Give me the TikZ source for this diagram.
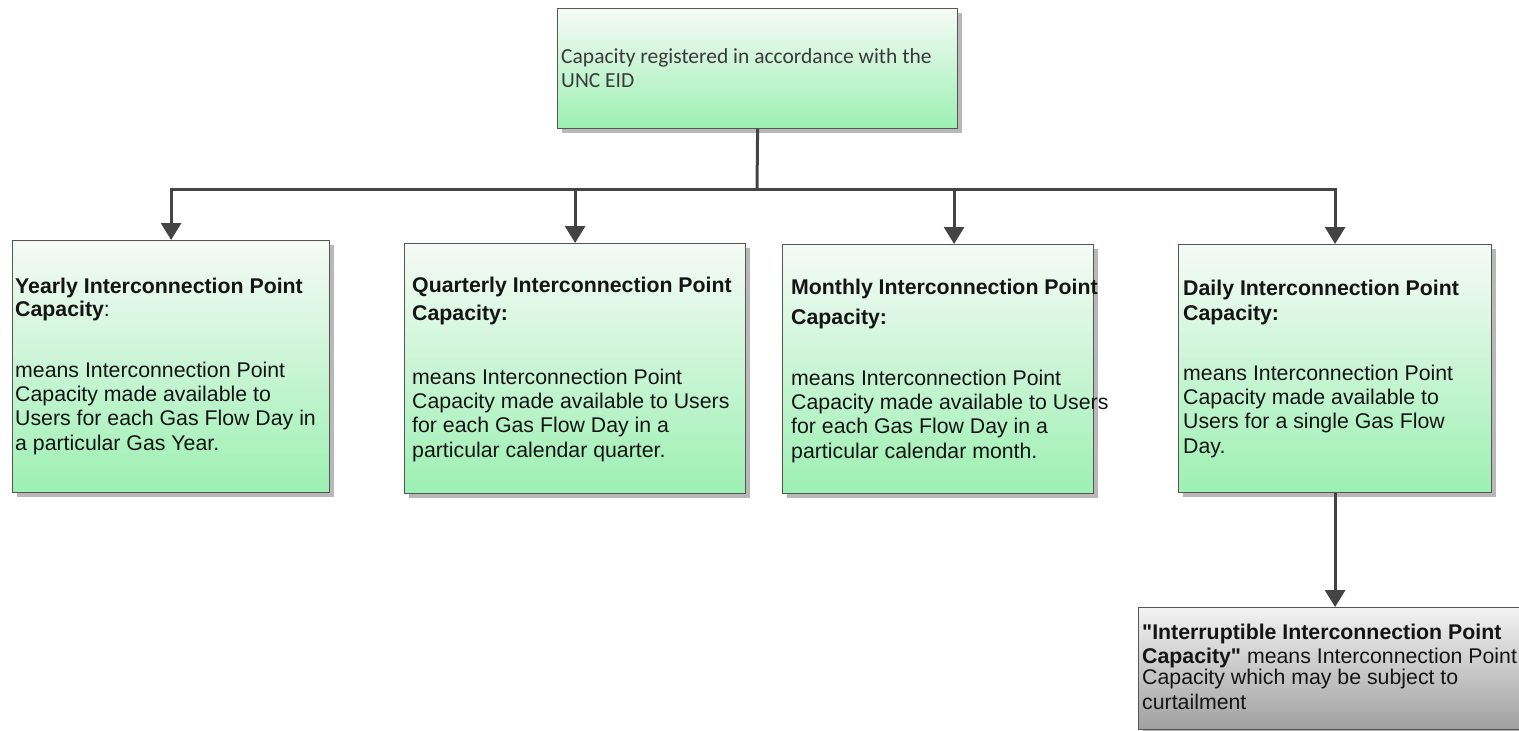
\documentclass[tikz,border=0pt]{standalone}
\usepackage{fontspec}
\newfontfamily\arialf{Liberation Sans}
\newfontfamily\calf{Carlito}
\usetikzlibrary{arrows.meta,shadows,calc}
\definecolor{edge}{HTML}{555555}
\definecolor{grn}{RGB}{156,240,178}
\definecolor{grntop}{RGB}{246,250,247}
\definecolor{gry}{RGB}{160,160,160}
\definecolor{grytop}{RGB}{242,242,242}
\definecolor{conn}{HTML}{444444}
\definecolor{toptext}{HTML}{3a3a3a}
\begin{document}
\begin{tikzpicture}[x=1pt,y=-1pt,
  box/.style={draw=edge, line width=1.2pt, anchor=north west, inner sep=0pt,
    top color=grntop, bottom color=grn,
    drop shadow={shadow xshift=4pt, shadow yshift=-4pt, fill=black!28, opacity=1}},
  graybox/.style={box, top color=grytop, bottom color=gry},
  txt/.style={anchor=base west, inner sep=0pt, align=left, text=black!92,
    font=\arialf\fontsize{21.3}{24.3}\selectfont},
  toptxt/.style={anchor=base west, inner sep=0pt, align=left, text=toptext,
    font=\calf\fontsize{21.5}{24}\selectfont},
  connline/.style={draw=conn, line width=3pt, line join=miter},
  arrowline/.style={connline, -{Triangle[width=20pt,length=17pt]}}]
\useasboundingbox (0,0) rectangle (1519,731);

% boxes
\node[box, minimum width=400, minimum height=120] (top) at (557,8) {};
\node[box, minimum width=317, minimum height=252] (yearly) at (12,240) {};
\node[box, minimum width=341, minimum height=250] (quarterly) at (404,243) {};
\node[box, minimum width=311, minimum height=249] (monthly) at (782,244) {};
\node[box, minimum width=313, minimum height=248] (daily) at (1178,244) {};
\node[graybox, minimum width=400, minimum height=122] (intr) at (1138,607) {};

% texts (anchored at the baseline of their last line)
\node[toptxt] (topT) at (561,87) {Capacity registered in accordance with the\\UNC EID};

\node[txt] (yearlyT) at (15,450) {\textbf{Yearly Interconnection Point}\\[-1pt]
\textbf{Capacity}:\\[36pt]
means Interconnection Point\\
Capacity made available to\\
Users for each Gas Flow Day in\\
a particular Gas Year.};

\node[txt] (quarterlyT) at (412,457) {\textbf{Quarterly Interconnection Point}\\[4pt]
\textbf{Capacity:}\\[39pt]
means Interconnection Point\\
Capacity made available to Users\\
for each Gas Flow Day in a\\
particular calendar quarter.};

\node[txt] (monthlyT) at (791,458) {\textbf{Monthly Interconnection Point}\\[6pt]
\textbf{Capacity:}\\[36pt]
means Interconnection Point\\
Capacity made available to Users\\
for each Gas Flow Day in a\\
particular calendar month.};

\node[txt] (dailyT) at (1183,453) {\textbf{Daily Interconnection Point}\\[1pt]
\textbf{Capacity:}\\[35pt]
means Interconnection Point\\
Capacity made available to\\
Users for a single Gas Flow\\
Day.};

\node[txt] (intrT) at (1142,709) {\textbf{"Interruptible Interconnection Point}\\
\textbf{Capacity"} means Interconnection Point\\[-3pt]
Capacity which may be subject to\\
curtailment};

% connectors
\coordinate (hub) at (757,189);
\draw[connline] (top.south) -- (hub);
\draw[arrowline] (hub) -| (yearly.north);
\draw[arrowline] (hub) -| (quarterly.north);
\draw[arrowline] (hub) -| ([xshift=16pt]monthly.north);
\draw[arrowline] (hub) -| (daily.north);
\draw[arrowline] (daily.south) -- (daily.south |- intr.north);
\end{tikzpicture}
\end{document}
